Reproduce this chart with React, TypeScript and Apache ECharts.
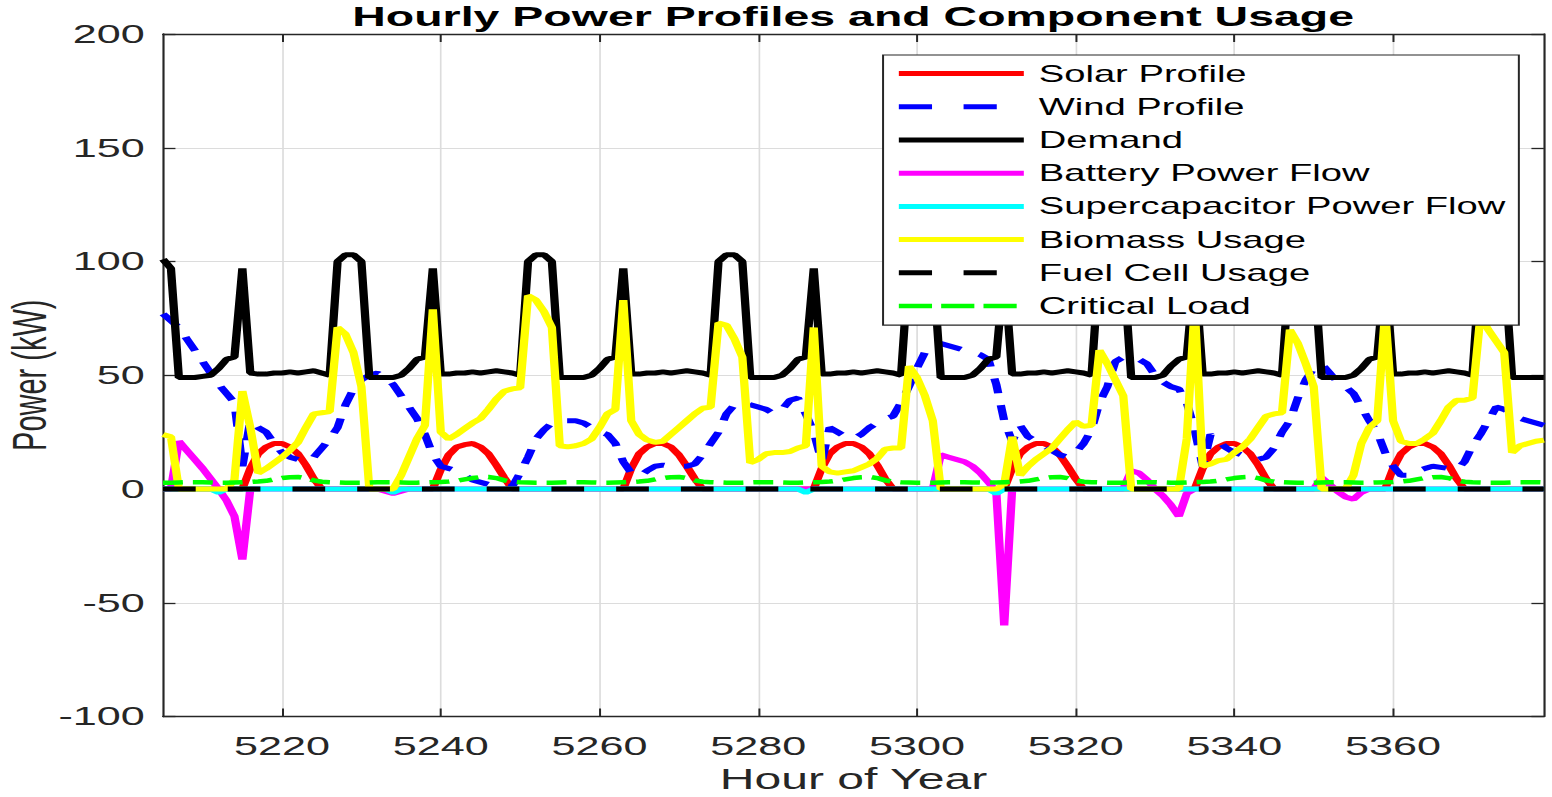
import React, { useEffect, useRef } from "react";
import * as echarts from "echarts";

// ---------------- data ----------------
const HOUR_START = 5205;
const X_MIN = 5205;
const X_MAX = 5379;
const X_TICKS = [5220, 5240, 5260, 5280, 5300, 5320, 5340, 5360];
const Y_MIN = -100;
const Y_MAX = 200;
const Y_STEP = 50;

// each row = 10 hours, first row starts at hour 5205
const solarProfile = [
  0, 0, 0, 0, 0, 0, 0, 0, 0, 0,
  0, 9, 15.5, 18.5, 20, 20, 18.5, 15.5, 10.5, 4.5,
  0, 0, 0, 0, 0, 0, 0, 0, 0, 0,
  0, 0, 0, 0, 0, 8.5, 15, 18.5, 19.5, 20,
  18.5, 15.5, 10.5, 5, 0, 0, 0, 0, 0, 0,
  0, 0, 0, 0, 0, 0, 0, 0, 0, 9,
  15.5, 18.5, 20, 20, 18.5, 15, 10, 4.5, 0, 0,
  0, 0, 0, 0, 0, 0, 0, 0, 0, 0,
  0, 0, 0, 9, 15.5, 18.5, 20, 20, 18.5, 15.5,
  10.5, 4.5, 0, 0, 0, 0, 0, 0, 0, 0,
  0, 0, 0, 0, 0, 0, 0, 9, 15.5, 18.5,
  20, 20, 18.5, 15, 10, 4.5, 0, 0, 0, 0,
  0, 0, 0, 0, 0, 0, 0, 0, 0, 0,
  0, 9, 15.5, 18.5, 20, 20, 18.5, 15.5, 10.5, 4.5,
  0, 0, 0, 0, 0, 0, 0, 0, 0, 0,
  0, 0, 0, 0, 0, 9, 15.5, 18.5, 20, 20,
  18.5, 15.5, 10.5, 4.5, 0, 0, 0, 0, 0, 0,
  0, 0, 0, 0, 0,
];

const windProfile = [
  77, 74, 71, 66, 61, 56, 51, 46, 42, 38,
  10, 30, 27, 25, 20, 16, 14, 13, 12, 14,
  18, 22, 27, 37, 44, 48, 50, 51, 49, 46,
  41, 36, 31, 24, 15, 10, 9, 8, 6, 4,
  3, 2, 2, 1.5, 1, 7, 14, 22, 26, 29,
  30, 30, 30, 29, 27, 25, 24, 20, 12, 7,
  5.5, 8, 10, 10.5, 10, 10, 10, 11, 15, 20,
  25, 33, 37, 38, 37, 36, 35, 33, 35, 39,
  40, 33, 25, 12, 27, 25, 23, 22, 24, 27,
  29, 31, 32, 38, 45, 53, 60, 62, 64, 63,
  62, 61, 60, 59, 57, 46, 30, 21, 28, 23,
  21, 19, 17, 15, 14, 16, 20, 26, 38, 45,
  56, 58, 58, 57, 55, 50, 47, 45, 44, 38,
  26, 10, 24, 21, 18, 16, 15, 14, 13, 14,
  18, 25, 30, 40, 48, 53, 55, 51, 47, 45,
  42, 36, 30, 25, 16, 10, 6, 6, 8, 9,
  10, 9.5, 9, 8.5, 12, 19, 24, 30, 36, 35,
  33, 31, 30, 29, 28,
];

const demand = [
  101, 97, 49, 49, 49, 49.5, 50, 53, 57, 58,
  97, 51, 50.5, 50.5, 51, 51, 51.5, 51, 51.5, 52,
  51, 50, 100, 103, 103, 100, 49, 49, 49, 49,
  50, 53, 57, 58, 97, 50.5, 50.5, 51, 51, 51.5,
  51, 51.5, 52, 51.5, 51, 50, 100, 103, 103, 100,
  49, 49, 49, 49, 50, 53, 57, 58, 97, 50.5,
  50.5, 51, 51, 51.5, 51, 51.5, 52, 51.5, 51, 50,
  100, 103, 103, 100, 49, 49, 49, 49, 50, 53,
  57, 58, 97, 50.5, 50.5, 51, 51, 51.5, 51, 51.5,
  52, 51.5, 51, 50, 100, 103, 103, 100, 49, 49,
  49, 49, 50, 53, 57, 58, 97, 50.5, 50.5, 51,
  51, 51.5, 51, 51.5, 52, 51.5, 51, 50, 100, 103,
  103, 100, 49, 49, 49, 49, 50, 54, 57, 58,
  97, 50.5, 50.5, 51, 51, 51.5, 51, 51.5, 52, 51.5,
  51, 50, 100, 103, 103, 100, 49, 49, 49, 49,
  50, 53, 57, 58, 97, 50.5, 50.5, 51, 51, 51.5,
  51, 51.5, 52, 51.5, 51, 50, 100, 103, 103, 100,
  49, 49, 49, 49, 49,
];

const batteryPowerFlow = [
  0, 0, 21, 17, 13, 9, 4.5, 0, -5, -12,
  -31, 0, 0, 0, 0, 0, 0, 0, 0, 0,
  0, 0, 0, 0, 0, 0, 0, 0, -1, -2,
  -1, 0, 0, 0, 0, 0, 0, 0, 0, 0,
  0, 0, 0, 0, 0, 0, 0, 0, 0, 0,
  0, 0, 0, 0, 0, 0, 0, 0, 0, 0,
  0, 0, 0, 0, 0, 0, 0, 0, 0, 0,
  0, 0, 0, 0, 0, 0, 0, 0, 0, 0,
  0, 0, 0, 0, 0, 0, 0, 0, 0, 0,
  0, 0, 0, 0, 0, 0, 0, 0, 15, 14,
  13, 12, 10, 7, 3, -1, -60, 0, 0, 0,
  0, 0, 0, 0, 0, 0, 0, 0, 0, 0,
  0, 0, 8, 7, 4, 0, -3, -7, -12, -2,
  0, 0, 0, 0, 0, 0, 0, 0, 0, 0,
  0, 0, 0, 0, 0, 0, 5, 2, -1, -3.5,
  -4.5, -1.5, 0, 0, 0, 0, 0, 0, 0, 0,
  0, 0, 0, 0, 0, 0, 0, 0, 0, 0,
  0, 0, 0, 0, 0,
];

const supercapacitorPowerFlow = [
  0, 0, 0, 0, 0, 0, 0, -1.5, 0, 0,
  0, 0, 0, 0, 0, 0, 0, 0, 0, 0,
  0, 0, 0, 0, 0, 0, 0, 0, 0, -1.5,
  0, 0, 0, 0, 0, 0, 0, 0, 0, 0,
  0, 0, 0, 0, 0, 0, 0, 0, 0, 0,
  0, 0, 0, 0, 0, 0, 0, 0, 0, 0,
  0, 0, 0, 0, 0, 0, 0, 0, 0, 0,
  0, 0, 0, 0, 0, 0, 0, 0, 0, 0,
  0, -1.5, 0, 0, 0, 0, 0, 0, 0, 0,
  0, 0, 0, 0, 0, 0, 0, 0, 0, 0,
  0, 0, 0, 0, 0, -2, 0, 0, 0, 0,
  0, 0, 0, 0, 0, 0, 0, 0, 0, 0,
  0, 0, 0, 0, 0, 0, 0, 0, 0, 0,
  0, 0, 0, 0, 0, 0, 0, 0, 0, 0,
  0, 0, 0, 0, 0, 0, 0, 0, 0, 0,
  0, 0, 0, 0, 0, 0, 0, 0, 0, 0,
  0, 0, 0, 0, 0, 0, 0, 0, 0, 0,
  0, 0, 0, 0, 0,
];

const biomassUsage = [
  24, 23, 0, 0, 0, 0, 0, 0, 0, 4,
  43, 27, 7, 9, 11.5, 14, 17, 20.5, 27, 33,
  33.5, 34, 71, 68, 60, 45, 0, 0, 0, 0,
  6, 14, 22, 28, 79, 25, 22, 24, 26.5, 29,
  31, 35, 39.5, 43, 44, 44.5, 85, 83, 78, 71,
  19, 18.5, 19, 20, 22, 27, 33, 35, 83, 30,
  24, 21.5, 20.5, 21, 24, 27, 30, 33, 35.5, 36,
  73, 72, 66, 58, 11.5, 13, 15.5, 16, 16, 16.5,
  18, 19, 71, 10, 7.5, 7, 7.5, 8, 9.5, 11,
  13.5, 17.5, 18, 18, 54, 49, 41, 30, 0, 0,
  0, 0, 0, 0, 0, 0, 2, 23, 6, 10,
  13, 15.5, 18, 22, 26, 29.5, 27.5, 28, 61, 55,
  48, 41, 0, 0, 0, 0, 0, 0, 0, 22,
  80, 10, 11, 12.5, 13, 16, 18.5, 22, 27, 32,
  33, 33.5, 70, 64, 55, 45, 0, 0, 0, 0,
  6, 20, 27, 30, 78, 30, 21, 20, 20, 22,
  24.5, 30, 36, 39, 39, 40, 76, 70, 65, 60,
  16, 19, 20, 21, 21.5,
];

const fuelCellUsage = [
  0, 0, 0, 0, 0, 0, 0, 0, 0, 0,
  0, 0, 0, 0, 0, 0, 0, 0, 0, 0,
  0, 0, 0, 0, 0, 0, 0, 0, 0, 0,
  0, 0, 0, 0, 0, 0, 0, 0, 0, 0,
  0, 0, 0, 0, 0, 0, 0, 0, 0, 0,
  0, 0, 0, 0, 0, 0, 0, 0, 0, 0,
  0, 0, 0, 0, 0, 0, 0, 0, 0, 0,
  0, 0, 0, 0, 0, 0, 0, 0, 0, 0,
  0, 0, 0, 0, 0, 0, 0, 0, 0, 0,
  0, 0, 0, 0, 0, 0, 0, 0, 0, 0,
  0, 0, 0, 0, 0, 0, 0, 0, 0, 0,
  0, 0, 0, 0, 0, 0, 0, 0, 0, 0,
  0, 0, 0, 0, 0, 0, 0, 0, 0, 0,
  0, 0, 0, 0, 0, 0, 0, 0, 0, 0,
  0, 0, 0, 0, 0, 0, 0, 0, 0, 0,
  0, 0, 0, 0, 0, 0, 0, 0, 0, 0,
  0, 0, 0, 0, 0, 0, 0, 0, 0, 0,
  0, 0, 0, 0, 0,
];

const criticalLoad = [
  2.8, 2.8, 2.9, 3, 3, 3, 2.9, 2.8, 2.8, 2.9,
  3, 3.1, 3.3, 3.6, 4.2, 4.8, 5.2, 5.3, 4.8, 3.8,
  3.2, 3, 2.9, 2.8, 2.8, 2.8, 2.9, 3, 3, 3,
  2.9, 2.8, 2.8, 2.9, 3, 3.1, 3.3, 3.6, 4.2, 4.8,
  5.2, 5.3, 4.8, 3.8, 3.2, 3, 2.9, 2.8, 2.8, 2.8,
  2.9, 3, 3, 3, 2.9, 2.8, 2.8, 2.9, 3, 3.1,
  3.3, 3.6, 4.2, 4.8, 5.2, 5.3, 4.8, 3.8, 3.2, 3,
  2.9, 2.8, 2.8, 2.8, 2.9, 3, 3, 3, 2.9, 2.8,
  2.8, 2.9, 3, 3.1, 3.3, 3.6, 4.2, 4.8, 5.2, 5.3,
  4.8, 3.8, 3.2, 3, 2.9, 2.8, 2.8, 2.8, 2.9, 3,
  3, 3, 2.9, 2.8, 2.8, 2.9, 3, 3.1, 3.3, 3.6,
  4.2, 4.8, 5.2, 5.3, 4.8, 3.8, 3.2, 3, 2.9, 2.8,
  2.8, 2.8, 2.9, 3, 3, 3, 2.9, 2.8, 2.8, 2.9,
  3, 3.1, 3.3, 3.6, 4.2, 4.8, 5.2, 5.3, 4.8, 3.8,
  3.2, 3, 2.9, 2.8, 2.8, 2.8, 2.9, 3, 3, 3,
  2.9, 2.8, 2.8, 2.9, 3, 3.1, 3.3, 3.6, 4.2, 4.8,
  5.2, 5.3, 4.8, 3.8, 3.2, 3, 2.9, 2.8, 2.8, 2.8,
  2.9, 3, 3, 3, 2.9,
];

const hours = demand.map((_, i) => HOUR_START + i);
const toPoints = (vals: number[]) => vals.map((v, i) => [hours[i], v]);

// ---------------- styling ----------------
// The reference figure is stretched horizontally; the chart is drawn at a
// narrower width and stretched back to the 1552 px page width.
const PAGE_W = 1552;
const PAGE_H = 797;
const CHART_W = 935;
const STRETCH = PAGE_W / CHART_W;

const FONT = "'Liberation Sans', Arial, Helvetica, sans-serif";
const INK = "#262626";
const GRID_COLOR = "#dcdcdc";

type Def = {
  name: string;
  values: number[];
  color: string;
  width: number;
  dash: any;
  legendDash?: number[];
};

const seriesDefs: Def[] = [
  { name: "Solar Profile", values: solarProfile, color: "#ff0000", width: 5, dash: "solid" },
  { name: "Wind Profile", values: windProfile, color: "#0000ff", width: 5, dash: [15, 12], legendDash: [20, 19] },
  { name: "Demand", values: demand, color: "#000000", width: 5, dash: "solid" },
  { name: "Battery Power Flow", values: batteryPowerFlow, color: "#ff00ff", width: 5, dash: "solid" },
  { name: "Supercapacitor Power Flow", values: supercapacitorPowerFlow, color: "#00ffff", width: 5, dash: "solid" },
  { name: "Biomass Usage", values: biomassUsage, color: "#ffff00", width: 5, dash: "solid" },
  { name: "Fuel Cell Usage", values: fuelCellUsage, color: "#000000", width: 5, dash: [19.7, 19.3], legendDash: [20, 19] },
  { name: "Critical Load", values: criticalLoad, color: "#00ff00", width: 4.5, dash: [12, 6], legendDash: [20, 5.5] },
];

const axisLineStyle = { color: INK, width: 1.3 };

const option: any = {
  animation: false,
  backgroundColor: "#ffffff",
  title: {
    text: "Hourly Power Profiles and Component Usage",
    left: 514,
    top: 1,
    textAlign: "center",
    padding: 0,
    textStyle: { fontFamily: FONT, fontSize: 28, fontWeight: "bold", color: "#000000", lineHeight: 30 },
  },
  grid: { left: 98.2, right: 4.9, top: 34, bottom: 80.5, containLabel: false, outerBoundsMode: "none" },
  legend: {
    orient: "vertical",
    left: 532,
    top: 55,
    padding: [2, 8, 2.5, 7],
    itemGap: 0,
    itemWidth: 75.3,
    itemHeight: 14,
    backgroundColor: "#ffffff",
    borderColor: INK,
    borderWidth: 1.2,
    borderRadius: 0,
    selectedMode: false,
    itemStyle: { opacity: 0, borderWidth: 0, color: "rgba(0,0,0,0)" },
    lineStyle: { width: 5 },
    textStyle: { fontFamily: FONT, fontSize: 23, color: "#000000", lineHeight: 33.2, padding: [0, 0, 0, 4] },
    data: seriesDefs.map((d) =>
      d.legendDash
        ? { name: d.name, lineStyle: { width: d.width, type: d.legendDash } }
        : { name: d.name, lineStyle: { width: d.width } }
    ),
  },
  xAxis: [
    {
      type: "value",
      min: X_MIN,
      max: X_MAX,
      position: "bottom",
      name: "Hour of Year",
      nameLocation: "middle",
      nameGap: 48,
      nameMoveOverlap: false,
      nameTextStyle: { fontFamily: FONT, fontSize: 29, color: INK, lineHeight: 29 },
      axisLine: { show: true, onZero: false, lineStyle: axisLineStyle },
      axisTick: { show: true, inside: true, length: 8, customValues: X_TICKS, lineStyle: { color: INK, width: 1.2 } },
      axisLabel: {
        show: true,
        customValues: X_TICKS,
        margin: 16.5,
        fontFamily: FONT,
        fontSize: 26,
        lineHeight: 26,
        color: INK,
        formatter: (v: number) => String(v),
      },
      splitLine: { show: true, lineStyle: { color: GRID_COLOR, width: 1 } },
    },
    {
      type: "value",
      min: X_MIN,
      max: X_MAX,
      position: "top",
      axisLine: { show: true, onZero: false, lineStyle: axisLineStyle },
      axisTick: { show: true, inside: true, length: 8, customValues: X_TICKS, lineStyle: { color: INK, width: 1.2 } },
      axisLabel: { show: false },
      splitLine: { show: false },
    },
  ],
  yAxis: [
    {
      type: "value",
      min: Y_MIN,
      max: Y_MAX,
      interval: Y_STEP,
      position: "left",
      name: "Power (kW)",
      nameLocation: "middle",
      nameGap: 66,
      nameMoveOverlap: false,
      nameTextStyle: { fontFamily: FONT, fontSize: 29, color: INK, lineHeight: 29 },
      axisLine: { show: true, onZero: false, lineStyle: axisLineStyle },
      axisTick: { show: true, inside: true, length: 7.5, lineStyle: { color: INK, width: 1.3 } },
      axisLabel: { margin: 11, fontFamily: FONT, fontSize: 26, color: INK },
      splitLine: { show: true, lineStyle: { color: GRID_COLOR, width: 1 } },
    },
    {
      type: "value",
      min: Y_MIN,
      max: Y_MAX,
      interval: Y_STEP,
      position: "right",
      axisLine: { show: true, onZero: false, lineStyle: axisLineStyle },
      axisTick: { show: true, inside: true, length: 7.5, lineStyle: { color: INK, width: 1.3 } },
      axisLabel: { show: false },
      splitLine: { show: false },
    },
  ],
  series: seriesDefs.map((d) => ({
    name: d.name,
    type: "line",
    xAxisIndex: 0,
    yAxisIndex: 0,
    data: toPoints(d.values),
    symbol: "none",
    showSymbol: false,
    clip: true,
    silent: true,
    lineStyle: { color: d.color, width: d.width, type: d.dash },
    itemStyle: { color: d.color },
    emphasis: { disabled: true },
  })),
};

export default function App() {
  const ref = useRef<HTMLDivElement>(null);
  useEffect(() => {
    if (!ref.current) return;
    const chart = echarts.init(ref.current, undefined, { renderer: "svg" });
    chart.setOption(option);
    return () => chart.dispose();
  }, []);
  return (
    <div
      style={{
        position: "fixed",
        left: 0,
        top: 0,
        width: PAGE_W,
        height: PAGE_H,
        overflow: "hidden",
        background: "#ffffff",
      }}
    >
      <div
        ref={ref}
        style={{
          width: CHART_W,
          height: PAGE_H,
          transform: `scaleX(${STRETCH})`,
          transformOrigin: "0 0",
        }}
      />
    </div>
  );
}
